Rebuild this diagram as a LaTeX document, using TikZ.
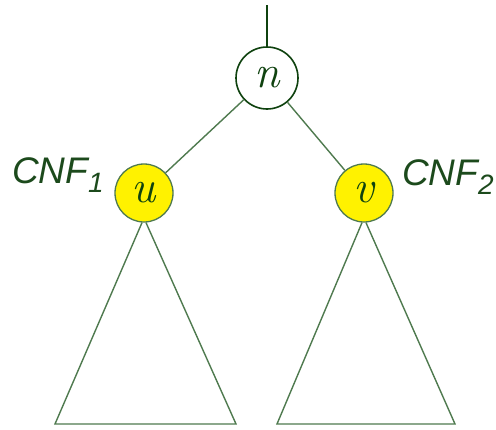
\documentclass[tikz,border=0pt]{standalone}
\usepackage{fontspec}
\newfontfamily\labfont{Liberation Sans}
\newfontfamily\varfont{Latin Modern Roman}
\definecolor{dkgreen}{HTML}{0F420F}
\definecolor{lngreen}{HTML}{4F7A4F}
\definecolor{txgreen}{HTML}{1C4A1C}
\begin{document}
\begin{tikzpicture}[x=1pt,y=-1pt,
  vnode/.style={circle,minimum size=58pt,inner sep=0pt,line width=1.3pt,text=dkgreen,font=\varfont\itshape\fontsize{46}{46}\selectfont},
  edgeline/.style={draw=lngreen,line width=1.4pt},
  lab/.style={text=txgreen,inner sep=0pt,anchor=base west,font=\labfont\itshape\fontsize{37}{37}\selectfont}]
\useasboundingbox[fill=white] (0,0) rectangle (496,429);
\node[vnode,draw=dkgreen,fill=white,minimum size=62pt,line width=1.6pt] (n) at (267,78) {\raisebox{2pt}{n}};
\node[vnode,draw=lngreen,fill=yellow] (u) at (144,193) {\raisebox{2pt}{u}};
\node[vnode,draw=lngreen,fill=yellow] (v) at (364,193) {\raisebox{2pt}{v}};
\coordinate (top) at (267,5);
\draw[dkgreen,line width=1.4pt] (top) -- (n.north);
\draw[edgeline] (n) -- (u);
\draw[edgeline] (n) -- (v);
\coordinate (ul) at (55,424);
\coordinate (ur) at (236,424);
\coordinate (vl) at (277,424);
\coordinate (vr) at (455,424);
\draw[edgeline,line join=miter] ([xshift=-2pt]u.south) -- (ul) -- (ur) -- ([xshift=2pt]u.south);
\draw[edgeline,line join=miter] ([xshift=-2pt]v.south) -- (vl) -- (vr) -- ([xshift=2pt]v.south);
\node[lab] (c1) at (12,183) {CNF\raisebox{-9pt}{\fontsize{28}{28}\selectfont 1}};
\node[lab] (c2) at (402,185) {CNF\raisebox{-9pt}{\fontsize{28}{28}\selectfont 2}};
\end{tikzpicture}
\end{document}
